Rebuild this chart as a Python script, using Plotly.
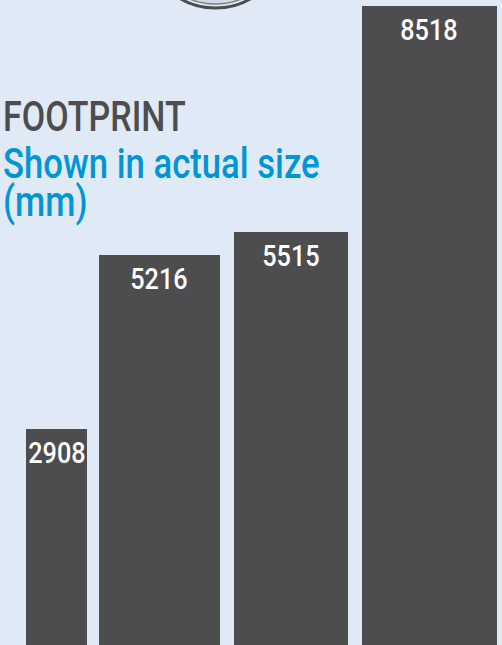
import plotly.graph_objects as go

# ---- data ----
values = [2908, 5216, 5515, 8518]
labels = ["2908", "5216", "5515", "8518"]
title_line = "FOOTPRINT"
subtitle_lines = ["Shown in actual size", "(mm)"]

# ---- geometry (layout only) ----
W, H = 502, 645
bar_x = [56.5, 159.2, 291.0, 429.2]
bar_w = [61, 121, 114, 135]

BG = "#e0eaf7"
BAR = "#4d4d4f"
BLUE = "#0096d6"
FONT = "Roboto, sans-serif"

fig = go.Figure()
fig.add_trace(go.Bar(
    x=bar_x, y=values, width=bar_w,
    marker=dict(color=BAR, line=dict(width=0)),
    hoverinfo="skip",
))

annotations = []
for xc, v, t in zip(bar_x, values, labels):
    annotations.append(dict(
        x=xc, y=v, xref="x", yref="y", text=t, showarrow=False,
        xanchor="center", yanchor="top", yshift=-5,
        font=dict(family=FONT, size=29, color="white", weight=500),
    ))

def px2paper(px, py):
    return px / W, 1 - py / H

# title lines
annotations.append(dict(
    x=1 / W, y=1 - 116 / H, xref="paper", yref="paper", text=title_line,
    showarrow=False, xanchor="left", yanchor="middle",
    font=dict(family=FONT, size=42, color=BAR, weight=500),
))
annotations.append(dict(
    x=1 / W, y=1 - 163 / H, xref="paper", yref="paper", text=subtitle_lines[0],
    showarrow=False, xanchor="left", yanchor="middle",
    font=dict(family=FONT, size=42, color=BLUE, weight=500),
))
annotations.append(dict(
    x=1 / W, y=1 - 201 / H, xref="paper", yref="paper", text=subtitle_lines[1],
    showarrow=False, xanchor="left", yanchor="middle",
    font=dict(family=FONT, size=42, color=BLUE, weight=500),
))

# partial circle emblem at the top
cx, cy = 215.5, -62
shapes = []
for r, lc, lw, fc in [(70, BAR, 3, "rgba(0,0,0,0)"), (66, "#7d8088", 1.5, "#d3dae4")]:
    x0, y0 = px2paper(cx - r, cy - r)
    x1, y1 = px2paper(cx + r, cy + r)
    shapes.append(dict(type="circle", xref="paper", yref="paper",
                       x0=x0, x1=x1, y0=y1, y1=y0,
                       line=dict(color=lc, width=lw), fillcolor=fc, layer="above"))

fig.update_layout(
    width=W, height=H,
    margin=dict(l=0, r=0, t=0, b=0),
    paper_bgcolor=BG, plot_bgcolor=BG,
    showlegend=False,
    xaxis=dict(range=[0, W], visible=False, fixedrange=True),
    yaxis=dict(range=[45, 8594], visible=False, fixedrange=True),
    annotations=annotations,
    shapes=shapes,
    bargap=0,
)

# condensed look: squeeze annotation texts horizontally (no condensed font installed)
post = """
document.body.style.margin='0';
document.body.style.overflow='hidden';
var f=[0.87,0.87,0.87,0.87,0.81,0.826,0.826];
var t=document.querySelectorAll('text.annotation-text');
t.forEach(function(e,i){
  var s=f[i]||1;
  e.style.transformBox='fill-box';
  e.style.transformOrigin=(i<4?'center':'left')+' center';
  e.style.transform='scaleX('+s+')';
});
"""
fig.write_html("out.html", config={"displayModeBar": False}, post_script=post)
